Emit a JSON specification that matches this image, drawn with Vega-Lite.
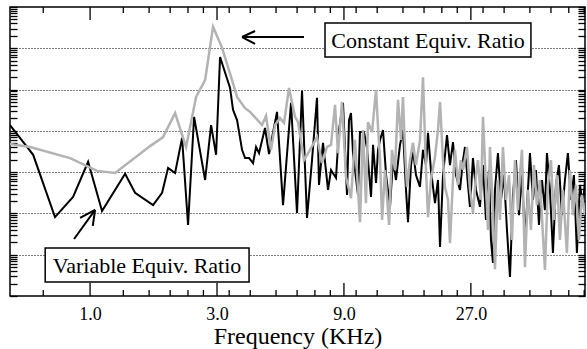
{
  "$schema": "https://vega.github.io/schema/vega-lite/v6.json",
  "width": 575,
  "height": 289,
  "autosize": {"type": "none"},
  "padding": {"left": 10, "top": 7, "right": 2, "bottom": 53},
  "background": "white",
  "config": {
    "font": "Liberation Serif",
    "view": {"stroke": "black", "strokeWidth": 1.5},
    "axis": {"domain": false, "ticks": true, "tickColor": "black", "tickWidth": 1.3, "labelColor": "black", "titleColor": "black", "titleFontWeight": "normal"},
    "axisX": {"grid": false}
  },
  "datasets": {
    "variable": [
      {"f":0.5,"db":-28.6},{"f":0.611,"db":-35.8},{"f":0.738,"db":-50.9},{"f":0.863,"db":-46.0},{"f":0.983,"db":-37.5},{"f":1.109,"db":-49.4},{"f":1.354,"db":-40.4},{"f":1.476,"db":-45.0},{"f":1.725,"db":-48.0},{"f":1.865,"db":-45.0},{"f":1.964,"db":-39.0},{"f":2.087,"db":-40.2},{"f":2.217,"db":-31.7},{"f":2.335,"db":-52.8},{"f":2.46,"db":-26.6},{"f":2.706,"db":-41.9},{"f":2.85,"db":-28.6},{"f":2.976,"db":-35.8},{"f":3.08,"db":-12.1},{"f":3.358,"db":-19.6},{"f":3.446,"db":-24.9},{"f":3.568,"db":-27.4},{"f":3.726,"db":-34.6},{"f":3.824,"db":-36.6},{"f":3.959,"db":-36.6},{"f":4.098,"db":-37.8},{"f":4.206,"db":-33.9},{"f":4.316,"db":-35.4},{"f":4.545,"db":-29.3},{"f":4.706,"db":-35.6},{"f":4.914,"db":-29.1},{"f":5.043,"db":-25.4},{"f":5.312,"db":-48.0},{"f":5.692,"db":-23.2},{"f":5.995,"db":-49.9},{"f":6.261,"db":-20.3},{"f":6.537,"db":-51.1},{"f":6.826,"db":-37.1},{"f":7.128,"db":-22.0},{"f":7.252,"db":-43.1},{"f":7.508,"db":-32.9},{"f":7.841,"db":-44.3},{"f":8.046,"db":-39.5},{"f":8.402,"db":-41.4},{"f":8.623,"db":-29.8},{"f":8.927,"db":-23.2},{"f":9.241,"db":-45.5},{"f":9.403,"db":-27.4},{"f":9.566,"db":-25.7},{"f":9.733,"db":-35.4},{"f":10.164,"db":-45.5},{"f":10.34,"db":-30.3},{"f":10.704,"db":-30.3},{"f":10.985,"db":-34.1},{"f":11.378,"db":-46.0},{"f":11.577,"db":-33.4},{"f":11.881,"db":-42.6},{"f":12.089,"db":-34.6},
      {"f":12.3,"db":-32.2},{"f":12.62,"db":-29.8},{"f":12.96,"db":-40.7},{"f":13.41,"db":-48.4},{"f":13.76,"db":-37.1},{"f":14.12,"db":-41.9},{"f":14.62,"db":-33.4},{"f":15.0,"db":-29.8},{"f":15.4,"db":-44.3},{"f":15.67,"db":-52.1},{"f":16.08,"db":-38.3},{"f":16.36,"db":-34.6},{"f":16.79,"db":-40.7},{"f":17.38,"db":-43.6},{"f":17.84,"db":-34.6},{"f":18.31,"db":-38.3},{"f":18.63,"db":-30.5},{"f":19.11,"db":-39.5},{"f":19.79,"db":-47.5},{"f":20.31,"db":-41.9},{"f":20.67,"db":-58.1},{"f":21.21,"db":-40.7},{"f":21.96,"db":-31.0},{"f":22.53,"db":-38.3},{"f":23.12,"db":-32.7},{"f":23.73,"db":-40.7},{"f":24.57,"db":-44.3},{"f":25.22,"db":-37.1},{"f":25.66,"db":-33.9},{"f":26.33,"db":-43.1},{"f":26.79,"db":-48.4},{"f":27.49,"db":-36.6},{"f":28.22,"db":-44.3},{"f":29.21,"db":-48.4},{"f":29.98,"db":-38.3},{"f":30.77,"db":-51.6},{"f":31.58,"db":-39.5},{"f":32.13,"db":-56.4},{"f":32.69,"db":-62.0},{"f":33.26,"db":-44.3},{"f":34.13,"db":-35.4},{"f":35.03,"db":-46.7},{"f":35.95,"db":-40.7},{"f":36.9,"db":-54.0},{"f":37.87,"db":-65.4},{"f":38.87,"db":-45.5},{"f":39.89,"db":-37.1},{"f":40.94,"db":-50.4},{"f":42.01,"db":-40.7},{"f":43.12,"db":-56.4},{"f":44.25,"db":-44.3},{"f":45.02,"db":-35.4},{"f":46.2,"db":-46.7},{"f":47.42,"db":-39.5},{"f":48.67,"db":-52.8},{"f":49.95,"db":-41.9},{"f":51.26,"db":-49.2},{"f":52.15,"db":-35.4},{"f":53.52,"db":-44.3},{"f":54.93,"db":-59.6},{"f":56.37,"db":-43.1},{"f":57.86,"db":-38.3},{"f":59.38,"db":-50.4},{"f":60.94,"db":-41.9},{"f":62.54,"db":-35.4},{"f":64.18,"db":-46.7},{"f":65.87,"db":-40.7},{"f":67.6,"db":-59.6},{"f":69.39,"db":-43.1},{"f":71.21,"db":-48.0},{"f":72.5,"db":-41.9}
    ],
    "constant": [
      {"f":0.5,"db":-33.2},{"f":0.595,"db":-33.9},{"f":0.841,"db":-36.6},{"f":1.062,"db":-39.7},{"f":1.242,"db":-40.2},{"f":1.681,"db":-33.7},{"f":1.881,"db":-31.5},{"f":2.087,"db":-25.7},{"f":2.295,"db":-33.9},{"f":2.503,"db":-21.8},{"f":2.706,"db":-17.7},{"f":2.899,"db":-4.8},{"f":3.134,"db":-9.9},{"f":3.417,"db":-17.7},{"f":3.568,"db":-21.8},{"f":3.824,"db":-24.5},{"f":3.993,"db":-25.4},{"f":4.429,"db":-28.6},{"f":4.585,"db":-26.4},{"f":4.788,"db":-34.6},{"f":4.957,"db":-28.6},{"f":5.176,"db":-26.9},{"f":5.358,"db":-28.1},{"f":5.595,"db":-19.6},{"f":5.892,"db":-26.6},{"f":6.048,"db":-27.9},{"f":6.37,"db":-37.1},{"f":6.709,"db":-34.6},{"f":7.128,"db":-31.5},{"f":7.444,"db":-37.8},{"f":7.773,"db":-33.9},{"f":8.046,"db":-33.4},{"f":8.33,"db":-23.7},{"f":8.549,"db":-35.4},{"f":8.85,"db":-23.0},{"f":9.162,"db":-41.2},{"f":9.566,"db":-46.3},{"f":9.903,"db":-32.2},{"f":10.34,"db":-52.1},{"f":10.612,"db":-29.8},{"f":10.891,"db":-47.5},{"f":11.081,"db":-27.9},{"f":11.477,"db":-30.3},{"f":11.881,"db":-20.1},{"f":12.089,"db":-29.1},
      {"f":12.3,"db":-37.1},{"f":12.52,"db":-51.6},{"f":12.84,"db":-39.5},{"f":13.3,"db":-52.8},{"f":13.64,"db":-34.6},{"f":14.0,"db":-39.5},{"f":14.37,"db":-22.5},{"f":14.75,"db":-32.2},{"f":15.0,"db":-21.8},{"f":15.27,"db":-34.6},{"f":15.53,"db":-43.6},{"f":15.94,"db":-37.1},{"f":16.36,"db":-32.9},{"f":16.79,"db":-38.3},{"f":17.38,"db":-32.2},{"f":17.84,"db":-17.0},{"f":18.31,"db":-39.5},{"f":18.63,"db":-50.9},{"f":19.11,"db":-41.9},{"f":19.79,"db":-36.3},{"f":20.31,"db":-29.8},{"f":20.67,"db":-23.0},{"f":21.21,"db":-37.1},{"f":21.58,"db":-43.6},{"f":22.15,"db":-46.7},{"f":22.53,"db":-57.2},{"f":23.12,"db":-41.9},{"f":23.53,"db":-34.6},{"f":24.15,"db":-43.1},{"f":24.78,"db":-37.1},{"f":25.22,"db":-39.5},{"f":26.1,"db":-33.9},{"f":26.79,"db":-44.3},{"f":27.49,"db":-49.9},{"f":28.22,"db":-40.7},{"f":28.71,"db":-37.1},{"f":29.46,"db":-46.7},{"f":29.98,"db":-26.6},{"f":30.77,"db":-43.1},{"f":31.3,"db":-54.0},{"f":31.85,"db":-33.9},{"f":32.69,"db":-49.2},{"f":33.26,"db":-63.5},{"f":34.13,"db":-41.9},{"f":34.73,"db":-51.6},{"f":35.64,"db":-33.9},{"f":36.58,"db":-46.7},{"f":37.54,"db":-40.7},{"f":38.53,"db":-56.4},{"f":39.54,"db":-37.1},{"f":40.59,"db":-49.2},{"f":41.29,"db":-40.7},{"f":42.01,"db":-34.6},{"f":43.12,"db":-63.0},{"f":44.25,"db":-44.3},{"f":45.41,"db":-54.0},{"f":46.6,"db":-38.3},{"f":47.83,"db":-48.0},{"f":49.09,"db":-41.9},{"f":50.38,"db":-55.2},{"f":51.26,"db":-63.7},{"f":52.61,"db":-43.1},{"f":53.99,"db":-37.1},{"f":55.4,"db":-51.6},{"f":56.86,"db":-40.7},{"f":58.36,"db":-56.4},{"f":59.89,"db":-44.3},{"f":62.0,"db":-59.6},{"f":63.63,"db":-39.5},{"f":65.3,"db":-50.4},{"f":67.02,"db":-43.1},{"f":68.78,"db":-56.4},{"f":70.6,"db":-45.5},{"f":72.5,"db":-50.4}
    ],
    "xticks": [
      {"f":1,"a":-70,"b":-66.85},{"f":3,"a":-70,"b":-66.85},{"f":9,"a":-70,"b":-66.85},{"f":27,"a":-70,"b":-66.85},
      {"f":1,"a":0,"b":-3.15},{"f":3,"a":0,"b":-3.15},{"f":9,"a":0,"b":-3.15},{"f":27,"a":0,"b":-3.15},
      {"f":0.6667,"a":-70,"b":-68.55},{"f":1.3333,"a":-70,"b":-68.55},{"f":1.6667,"a":-70,"b":-68.55},{"f":2,"a":-70,"b":-68.55},{"f":2.3333,"a":-70,"b":-68.55},{"f":2.6667,"a":-70,"b":-68.55},{"f":3.3333,"a":-70,"b":-68.55},{"f":4,"a":-70,"b":-68.55},{"f":5,"a":-70,"b":-68.55},{"f":6,"a":-70,"b":-68.55},{"f":7,"a":-70,"b":-68.55},{"f":8,"a":-70,"b":-68.55},{"f":10,"a":-70,"b":-68.55},{"f":12,"a":-70,"b":-68.55},{"f":15,"a":-70,"b":-68.55},{"f":18,"a":-70,"b":-68.55},{"f":21,"a":-70,"b":-68.55},{"f":24,"a":-70,"b":-68.55},{"f":30,"a":-70,"b":-68.55},{"f":36,"a":-70,"b":-68.55},{"f":45,"a":-70,"b":-68.55},{"f":54,"a":-70,"b":-68.55},{"f":63,"a":-70,"b":-68.55},{"f":72,"a":-70,"b":-68.55},
      {"f":0.6667,"a":0,"b":-1.45},{"f":1.3333,"a":0,"b":-1.45},{"f":1.6667,"a":0,"b":-1.45},{"f":2,"a":0,"b":-1.45},{"f":2.3333,"a":0,"b":-1.45},{"f":2.6667,"a":0,"b":-1.45},{"f":3.3333,"a":0,"b":-1.45},{"f":4,"a":0,"b":-1.45},{"f":5,"a":0,"b":-1.45},{"f":6,"a":0,"b":-1.45},{"f":7,"a":0,"b":-1.45},{"f":8,"a":0,"b":-1.45},{"f":10,"a":0,"b":-1.45},{"f":12,"a":0,"b":-1.45},{"f":15,"a":0,"b":-1.45},{"f":18,"a":0,"b":-1.45},{"f":21,"a":0,"b":-1.45},{"f":24,"a":0,"b":-1.45},{"f":30,"a":0,"b":-1.45},{"f":36,"a":0,"b":-1.45},{"f":45,"a":0,"b":-1.45},{"f":54,"a":0,"b":-1.45},{"f":63,"a":0,"b":-1.45},{"f":72,"a":0,"b":-1.45}
    ]
  },
  "layer": [
    {
      "data": {"name": "variable"},
      "mark": {"type": "line", "color": "black", "strokeWidth": 2, "clip": true},
      "encoding": {
        "x": {"field": "f", "type": "quantitative",
          "scale": {"type": "log", "base": 3, "domain": [0.5, 72.5], "nice": false, "zero": false},
          "axis": {"orient": "bottom", "title": "Frequency (KHz)", "titleFontSize": 24, "titlePadding": 1,
            "values": [1, 3, 9, 27], "format": ".1f",
            "labelFontSize": 18, "labelPadding": 22,
            "tickSize": -13, "tickWidth": 1.5, "tickOpacity": 0}},
        "y": {"field": "db", "type": "quantitative",
          "scale": {"domain": [-70, 0], "nice": false, "zero": false},
          "axis": {"orient": "left", "title": null, "labels": false, "tickSize": -7,
            "values": [-70,-66.99,-65.229,-63.979,-63.01,-62.218,-61.549,-60.969,-60.458,-60,-56.99,-55.229,-53.979,-53.01,-52.218,-51.549,-50.969,-50.458,-50,-46.99,-45.229,-43.979,-43.01,-42.218,-41.549,-40.969,-40.458,-40,-36.99,-35.229,-33.979,-33.01,-32.218,-31.549,-30.969,-30.458,-30,-26.99,-25.229,-23.979,-23.01,-22.218,-21.549,-20.969,-20.458,-20,-16.99,-15.229,-13.979,-13.01,-12.218,-11.549,-10.969,-10.458,-10,-6.99,-5.229,-3.979,-3.01,-2.218,-1.549,-0.969,-0.458,0],
            "grid": true, "gridColor": "black", "gridDash": [1, 2], "gridWidth": 1,
            "gridOpacity": {"condition": {"test": "datum.value % 10 == 0 && datum.value > -70 && datum.value < 0", "value": 1}, "value": 0}}}
      }
    },
    {
      "data": {"name": "constant"},
      "mark": {"type": "line", "color": "#b3b3b3", "strokeWidth": 2.5, "clip": true},
      "encoding": {
        "x": {"field": "f", "type": "quantitative", "axis": null},
        "y": {"field": "db", "type": "quantitative",
          "axis": {"orient": "right", "title": null, "labels": false, "grid": false, "tickSize": -7,
            "values": [-70,-66.99,-65.229,-63.979,-63.01,-62.218,-61.549,-60.969,-60.458,-60,-56.99,-55.229,-53.979,-53.01,-52.218,-51.549,-50.969,-50.458,-50,-46.99,-45.229,-43.979,-43.01,-42.218,-41.549,-40.969,-40.458,-40,-36.99,-35.229,-33.979,-33.01,-32.218,-31.549,-30.969,-30.458,-30,-26.99,-25.229,-23.979,-23.01,-22.218,-21.549,-20.969,-20.458,-20,-16.99,-15.229,-13.979,-13.01,-12.218,-11.549,-10.969,-10.458,-10,-6.99,-5.229,-3.979,-3.01,-2.218,-1.549,-0.969,-0.458,0]}}
      }
    },
    {
      "data": {"name": "xticks"},
      "mark": {"type": "rule", "color": "black", "strokeWidth": 1.3},
      "encoding": {
        "x": {"field": "f", "type": "quantitative", "axis": null},
        "y": {"field": "a", "type": "quantitative", "axis": null},
        "y2": {"field": "b"}
      }
    },
    {
      "data": {"values": [
        {"x": 7.639, "x2": 45.41, "y": -3.875, "y2": -12.11},
        {"x": 0.678, "x2": 3.959, "y": -58.37, "y2": -66.6}
      ]},
      "mark": {"type": "rect", "fill": "white", "stroke": "black", "strokeWidth": 1.5},
      "encoding": {
        "x": {"field": "x", "type": "quantitative", "axis": null},
        "x2": {"field": "x2"},
        "y": {"field": "y", "type": "quantitative", "axis": null},
        "y2": {"field": "y2"}
      }
    },
    {
      "data": {"values": [
        {"x": 18.63, "y": -7.99, "t": "Constant Equiv. Ratio"},
        {"x": 1.637, "y": -62.49, "t": "Variable Equiv. Ratio"}
      ]},
      "mark": {"type": "text", "font": "Liberation Serif", "fontSize": 22, "baseline": "middle", "align": "center", "color": "black", "dy": 1},
      "encoding": {
        "x": {"field": "x", "type": "quantitative", "axis": null},
        "y": {"field": "y", "type": "quantitative", "axis": null},
        "text": {"field": "t"}
      }
    },
    {
      "data": {"values": [
        {"x": 6.37, "y": -7.27, "x2": 3.726, "y2": -7.27},
        {"x": 3.726, "y": -7.27, "x2": 4.17, "y2": -5.81},
        {"x": 3.726, "y": -7.27, "x2": 4.17, "y2": -8.96},
        {"x": 0.8706, "y": -56.19, "x2": 1.0442, "y2": -49.16},
        {"x": 1.0442, "y": -49.16, "x2": 0.917, "y2": -51.1},
        {"x": 1.0442, "y": -49.16, "x2": 1.0236, "y2": -53.04}
      ]},
      "mark": {"type": "rule", "color": "black", "strokeWidth": 2},
      "encoding": {
        "x": {"field": "x", "type": "quantitative", "axis": null},
        "x2": {"field": "x2"},
        "y": {"field": "y", "type": "quantitative", "axis": null},
        "y2": {"field": "y2"}
      }
    }
  ],
  "resolve": {"axis": {"x": "independent", "y": "independent"}}
}
